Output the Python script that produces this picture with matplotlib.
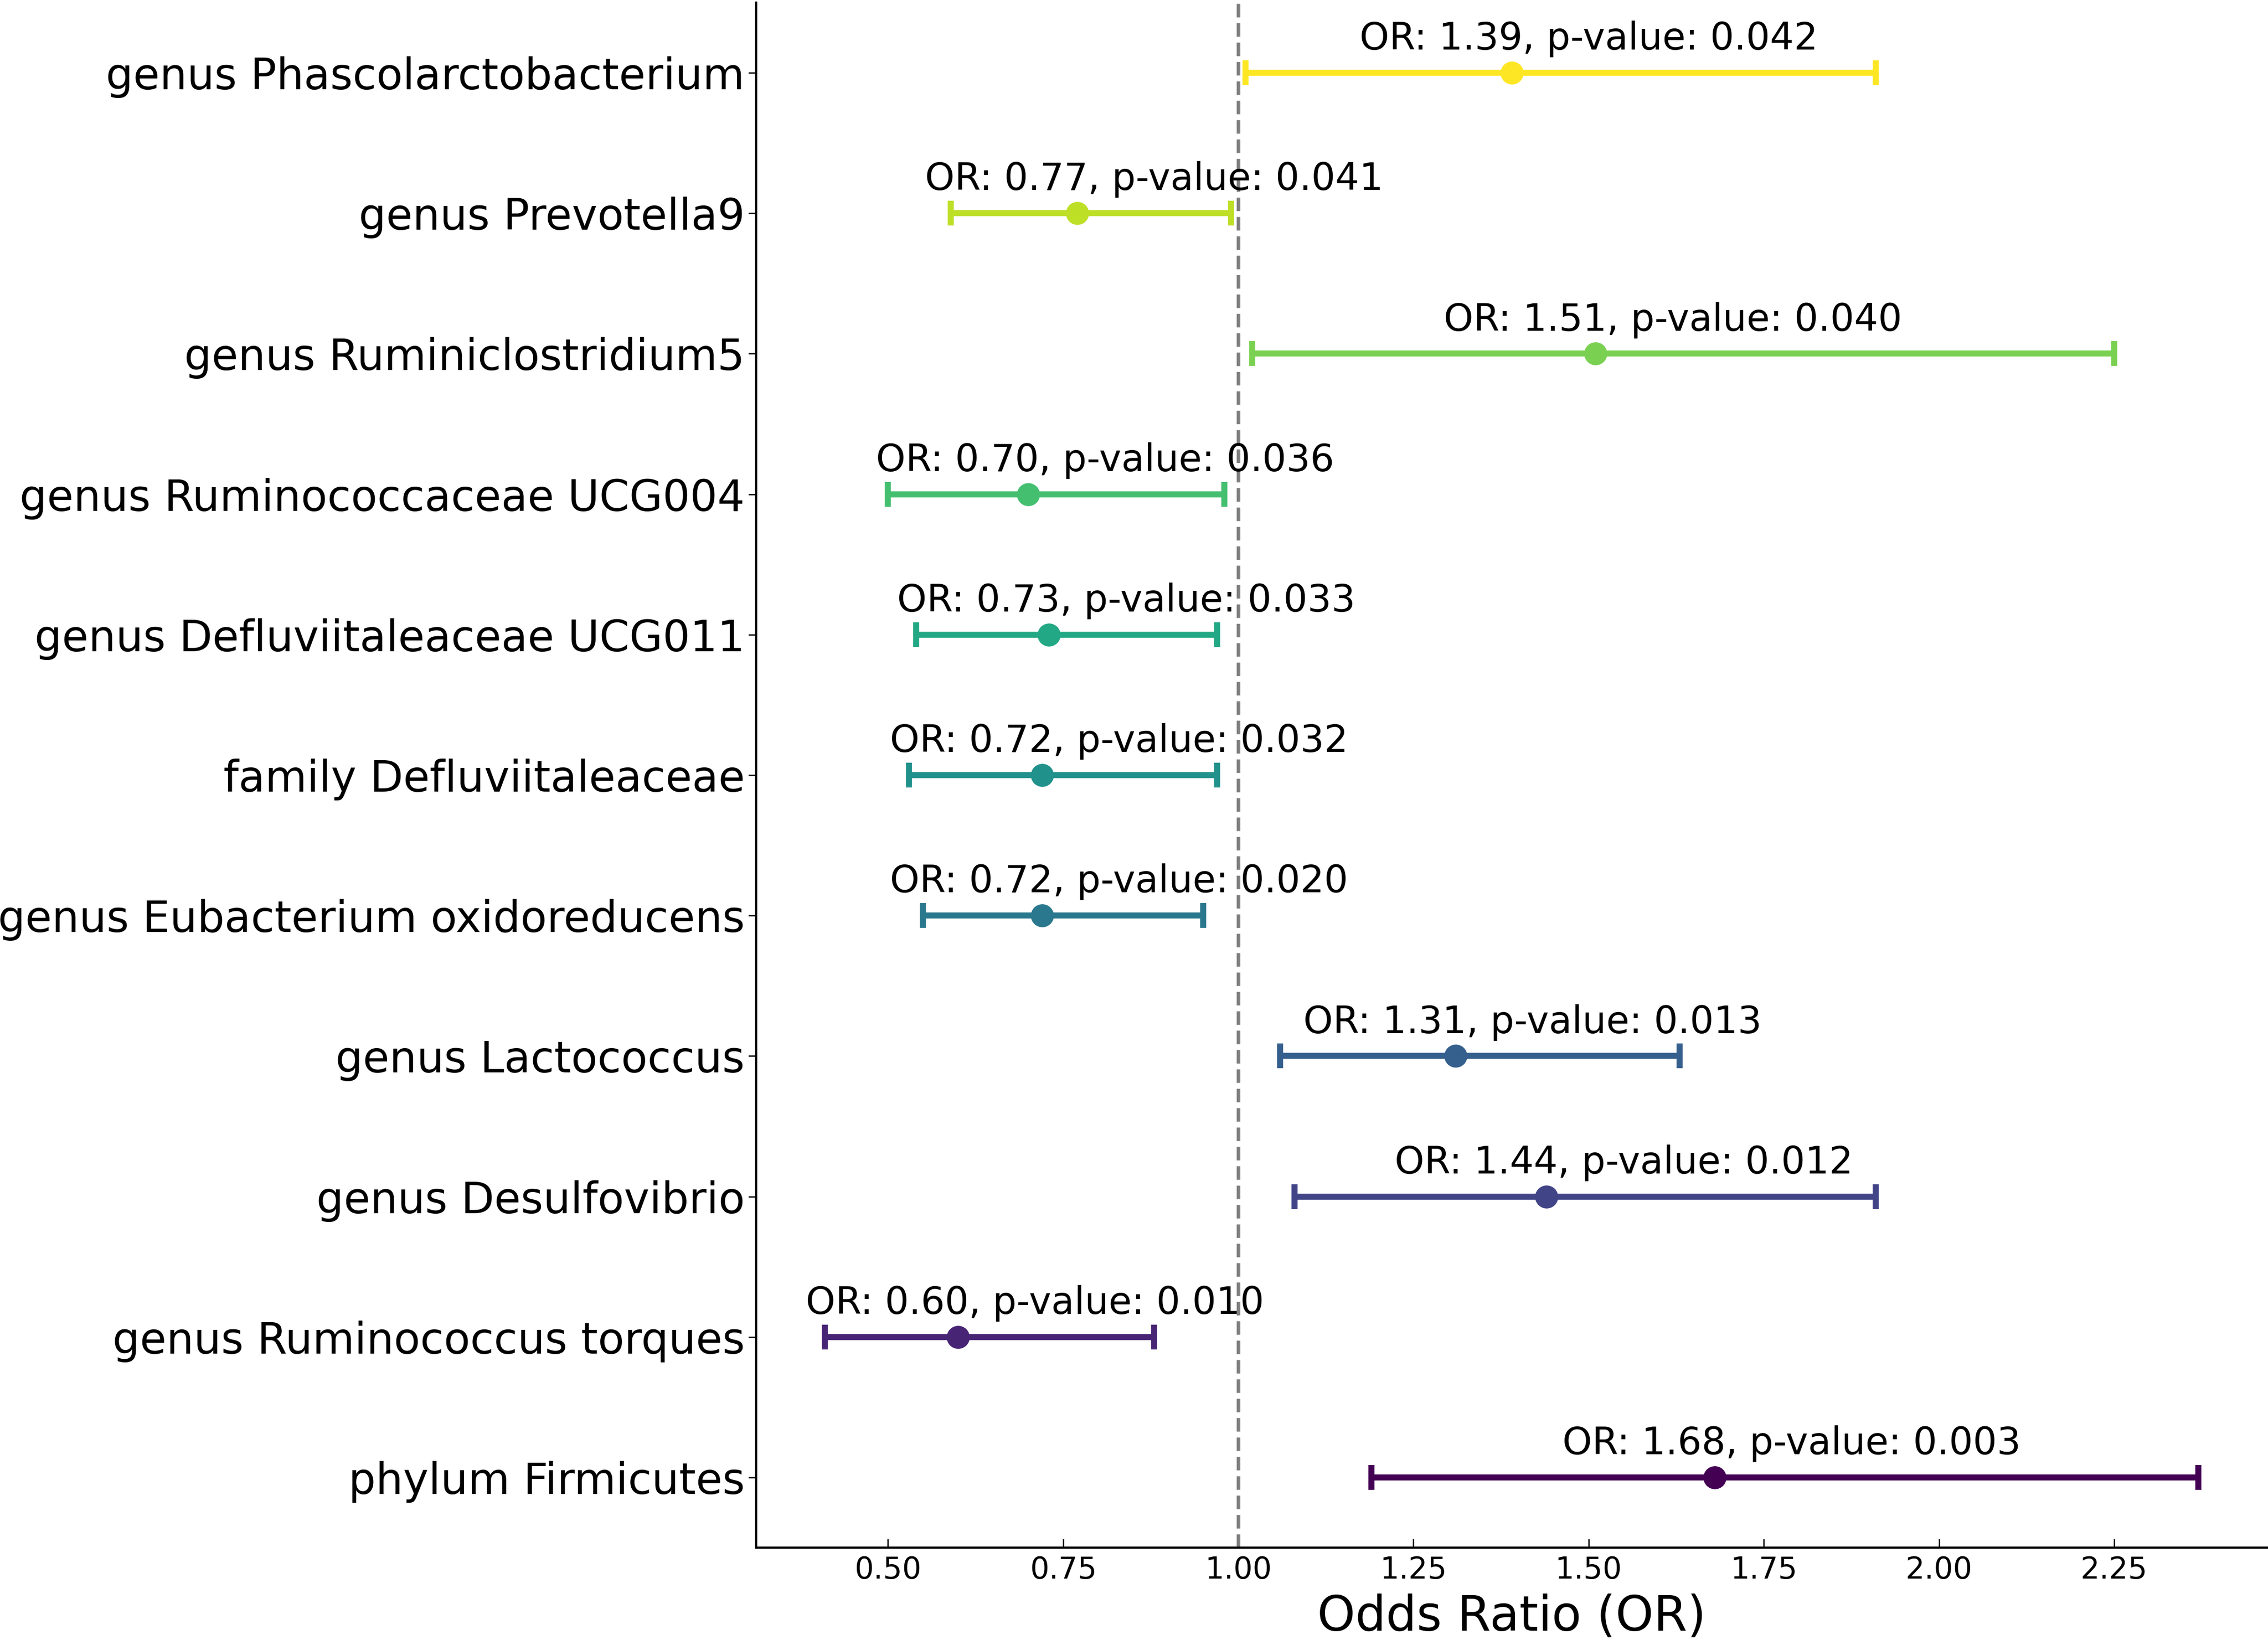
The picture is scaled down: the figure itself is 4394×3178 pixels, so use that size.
import matplotlib
matplotlib.use("Agg")
import matplotlib.pyplot as plt
import numpy as np

# Data, bottom row first
taxa = [
    "phylum Firmicutes",
    "genus Ruminococcus torques",
    "genus Desulfovibrio",
    "genus Lactococcus",
    "genus Eubacterium oxidoreducens",
    "family Defluviitaleaceae",
    "genus Defluviitaleaceae UCG011",
    "genus Ruminococcaceae UCG004",
    "genus Ruminiclostridium5",
    "genus Prevotella9",
    "genus Phascolarctobacterium",
]
odds_ratio = [1.68, 0.60, 1.44, 1.31, 0.72, 0.72, 0.73, 0.70, 1.51, 0.77, 1.39]
ci_lower = [1.19, 0.41, 1.08, 1.06, 0.55, 0.53, 0.54, 0.50, 1.02, 0.59, 1.01]
ci_upper = [2.37, 0.88, 1.91, 1.63, 0.95, 0.97, 0.97, 0.98, 2.25, 0.99, 1.91]
p_values = [0.003, 0.010, 0.012, 0.013, 0.020, 0.032, 0.033, 0.036, 0.040, 0.041, 0.042]

W, H, DPI = 4394, 3178, 300
fig = plt.figure(figsize=(W / DPI, H / DPI), dpi=DPI)
ax = fig.add_axes([1465 / W, (H - 2999) / H, (4392 - 1465) / W, (2999 - 5) / H])

colors = plt.cm.viridis(np.linspace(0, 1, len(taxa)))
ypos = np.arange(len(taxa))

for i in range(len(taxa)):
    orv = odds_ratio[i]
    ax.errorbar(orv, ypos[i],
                xerr=[[orv - ci_lower[i]], [ci_upper[i] - orv]],
                fmt='o', color=colors[i], ecolor=colors[i],
                markersize=9.7, elinewidth=2.8, capsize=5.8, capthick=2.8)
    ax.text(orv + 0.11, ypos[i] + 0.24,
            f"OR: {orv:.2f}, p-value: {p_values[i]:.3f}",
            ha='center', va='center', fontsize=17.5, color='black')

ax.axvline(1.0, color='gray', linestyle='--', linewidth=1.7)

ax.set_yticks(ypos)
ax.set_yticklabels(taxa, fontsize=20)
ax.set_xticks([0.5, 0.75, 1.0, 1.25, 1.5, 1.75, 2.0, 2.25])
ax.set_xticklabels(["0.50", "0.75", "1.00", "1.25", "1.50", "1.75", "2.00", "2.25"], fontsize=14)
ax.set_xlabel("Odds Ratio (OR)", fontsize=22.5)

ax.tick_params(axis='x', direction='in', length=4, width=0.6)
ax.tick_params(axis='y', direction='out', length=3.5, width=0.6, pad=1.8)
for s in ['top', 'right']:
    ax.spines[s].set_visible(False)
for s in ['left', 'bottom']:
    ax.spines[s].set_linewidth(1.0)
    ax.spines[s].set_color('black')

fig.savefig("out.png", dpi=DPI)
